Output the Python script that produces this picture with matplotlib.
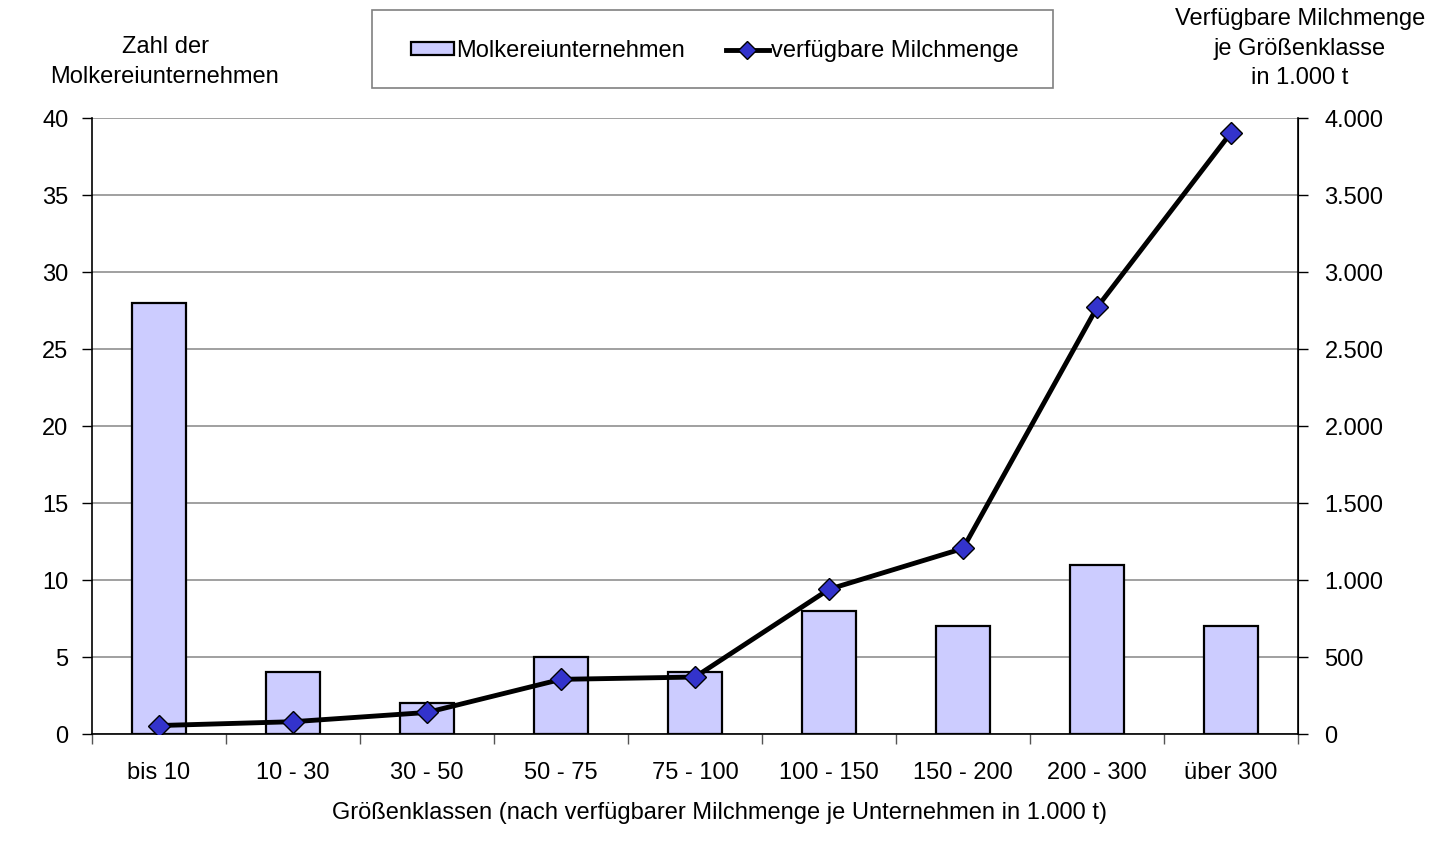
import matplotlib
matplotlib.use('Agg')
import matplotlib.pyplot as plt
from matplotlib.ticker import FuncFormatter, FixedLocator
from matplotlib.patches import Patch, Rectangle
from matplotlib.lines import Line2D
import numpy as np

# Data
categories = ['bis 10', '10 - 30', '30 - 50', '50 - 75', '75 - 100',
              '100 - 150', '150 - 200', '200 - 300', 'über 300']
companies = [28, 4, 2, 5, 4, 8, 7, 11, 7]
milk = [55, 80, 140, 355, 370, 940, 1205, 2770, 3905]

plt.rcParams['font.family'] = ['Liberation Sans', 'DejaVu Sans']
plt.rcParams['font.size'] = 17

fig = plt.figure(figsize=(14.4, 8.57), dpi=100)
ax = fig.add_axes([0.0639, 0.1435, 0.8375, 0.7188])
ax2 = ax.twinx()

x = np.arange(len(categories))
ax.bar(x, companies, width=0.4, color='#ccccff', edgecolor='black', linewidth=1.6, zorder=3)
ax.set_xlim(-0.5, len(categories) - 0.5)
ax.set_ylim(0, 40)
ax.set_yticks(range(0, 41, 5))
ax.yaxis.grid(True, color='#999999', linewidth=1.3, zorder=0)
ax.set_axisbelow(True)

ax2.plot(x, milk, color='black', linewidth=3.5, marker='D', markersize=11,
         markerfacecolor='#3333cc', markeredgecolor='black', markeredgewidth=1, zorder=4)
ax2.set_ylim(0, 4000)
ax2.set_yticks(range(0, 4001, 500))
ax2.yaxis.set_major_formatter(FuncFormatter(lambda v, p: f'{int(v):,}'.replace(',', '.')))

# category ticks between groups
ax.set_xticks(x)
ax.set_xticklabels(categories)
ax.tick_params(axis='x', length=0, pad=20)
ax.xaxis.set_minor_locator(FixedLocator(np.arange(-0.5, len(categories), 1.0)))
ax.tick_params(axis='x', which='minor', length=7, color='#555555', width=1)
ax.tick_params(axis='y', length=7, width=1, pad=10)
ax2.tick_params(axis='y', length=7, width=1, pad=12)

for a in (ax, ax2):
    a.spines['top'].set_visible(False)
ax.spines['left'].set_linewidth(1.2)
ax2.spines['right'].set_linewidth(1.2)
ax.spines['bottom'].set_linewidth(1.2)
ax2.spines['left'].set_visible(False)
ax2.spines['bottom'].set_visible(False)

fig.text(165 / 1440, 1 - 62 / 857, 'Zahl der\nMolkereiunternehmen', ha='center', va='center',
         fontsize=17, linespacing=1.5)
fig.text(1300 / 1440, 1 - 8 / 857, 'Verfügbare Milchmenge\nje Größenklasse\nin 1.000 t', ha='center',
         va='top', fontsize=17, linespacing=1.45)
fig.text(720 / 1440, 1 - 813 / 857, 'Größenklassen (nach verfügbarer Milchmenge je Unternehmen in 1.000 t)',
         ha='center', va='center', fontsize=17)

# legend box drawn separately
fig.patches.append(Rectangle((372 / 1440, 1 - 88 / 857), 681 / 1440, 78 / 857,
                             transform=fig.transFigure, facecolor='white',
                             edgecolor='#808080', linewidth=1.2, zorder=5))
handles = [Patch(facecolor='#ccccff', edgecolor='black', linewidth=1.6, label='Molkereiunternehmen'),
           Line2D([0], [0], color='black', linewidth=3.5, marker='D', markersize=9,
                  markerfacecolor='#3333cc', markeredgecolor='black', label='verfügbare Milchmenge')]
leg = fig.legend(handles=handles, loc='center', bbox_to_anchor=(715 / 1440, 1 - 51 / 857), ncol=2,
                 frameon=False, fontsize=17, handlelength=1.8, handleheight=0.47,
                 handletextpad=0.1, columnspacing=1.75, borderpad=0, borderaxespad=0)
leg.set_zorder(6)

fig.savefig('out.png', dpi=100)
